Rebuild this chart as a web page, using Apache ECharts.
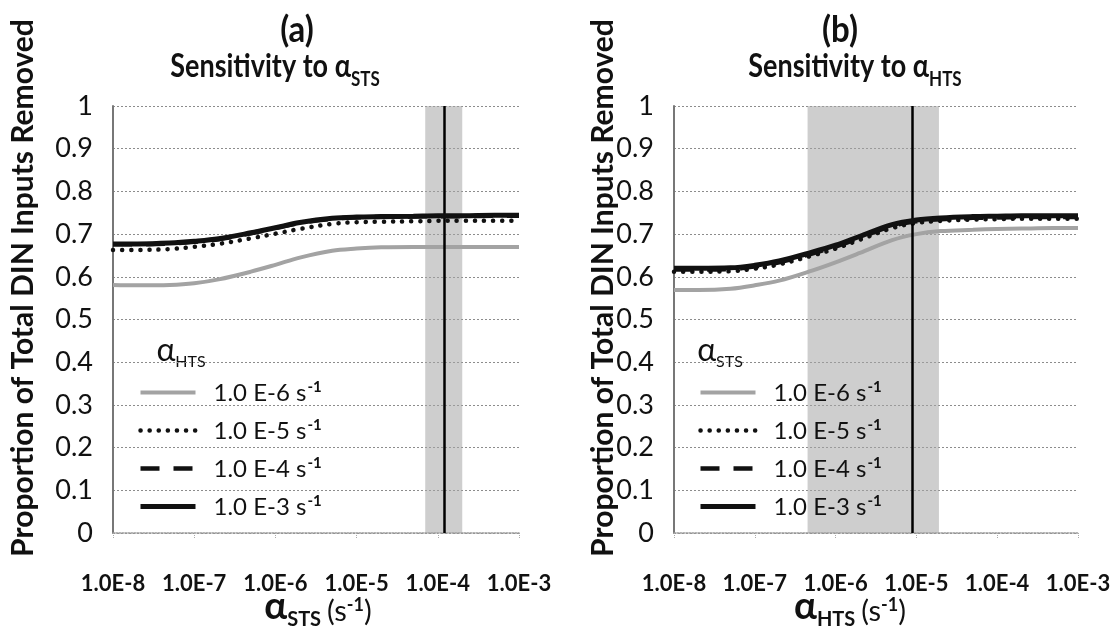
<!DOCTYPE html>
<html>
<head>
<meta charset="utf-8">
<script src="https://cdn.jsdelivr.net/npm/echarts@6/dist/echarts.min.js"></script>
<style>
  html, body { margin: 0; padding: 0; background: #fff; }
  #chart { width: 1114px; height: 635px; }
</style>
</head>
<body>
<div id="chart"></div>
<script>
// Rate constants (s^-1) at which the model was evaluated
const rateValues = [1e-8, 2e-8, 5e-8, 1e-7, 2e-7, 5e-7, 1e-6, 2e-6, 5e-6, 1e-5, 2e-5, 5e-5, 1e-4, 2e-4, 5e-4, 1e-3];

// Legend entries (the fixed rate of the other process)
const legendRates = ['1.0 E-6', '1.0 E-5', '1.0 E-4', '1.0 E-3'];

// Tick labels
const xTickLabels = ['1.0E-8', '1.0E-7', '1.0E-6', '1.0E-5', '1.0E-4', '1.0E-3'];
const yTickLabels = ['0', '0.1', '0.2', '0.3', '0.4', '0.5', '0.6', '0.7', '0.8', '0.9', '1'];

// (a) proportion removed vs alpha_STS, one curve per alpha_HTS
const stsHts6 = [0.581, 0.580, 0.581, 0.585, 0.594, 0.612, 0.628, 0.645, 0.661, 0.666, 0.669, 0.670, 0.670, 0.670, 0.670, 0.670];
const stsHts5 = [0.663, 0.663, 0.665, 0.670, 0.677, 0.690, 0.701, 0.712, 0.724, 0.728, 0.729, 0.730, 0.731, 0.731, 0.731, 0.731];
const stsHts4 = [0.676, 0.676, 0.678, 0.682, 0.688, 0.702, 0.714, 0.726, 0.736, 0.739, 0.740, 0.741, 0.742, 0.742, 0.743, 0.743];
const stsHts3 = [0.677, 0.677, 0.679, 0.683, 0.689, 0.703, 0.715, 0.727, 0.737, 0.740, 0.741, 0.742, 0.743, 0.743, 0.744, 0.744];

// (b) proportion removed vs alpha_HTS, one curve per alpha_STS
const htsSts6 = [0.569, 0.569, 0.572, 0.580, 0.591, 0.614, 0.634, 0.656, 0.686, 0.700, 0.707, 0.710, 0.712, 0.713, 0.714, 0.714];
const htsSts5 = [0.612, 0.612, 0.613, 0.619, 0.629, 0.649, 0.666, 0.687, 0.714, 0.726, 0.731, 0.734, 0.735, 0.736, 0.736, 0.736];
const htsSts4 = [0.617, 0.617, 0.618, 0.624, 0.634, 0.654, 0.671, 0.692, 0.719, 0.730, 0.735, 0.738, 0.739, 0.740, 0.740, 0.740];
const htsSts3 = [0.620, 0.620, 0.621, 0.627, 0.637, 0.657, 0.674, 0.695, 0.722, 0.733, 0.738, 0.741, 0.742, 0.743, 0.743, 0.743];

// Reference value and plausible range for each rate constant
const stsReference = 1.2e-4;
const stsRange = [7e-5, 2e-4];
const htsReference = 9e-6;
const htsRange = [4.5e-7, 1.9e-5];

const FONT = 'Lato, "Open Sans", sans-serif';

const lineStyles = [
  { color: '#a3a3a3', width: 4, type: 'solid' },
  { color: '#111', width: 4.5, type: [0.1, 9], cap: 'round' },
  { color: '#111', width: 4.5, type: [19, 14] },
  { color: '#111', width: 5, type: 'solid' }
];

function makeSeries(gridIdx, curves, ref, range) {
  return curves.map((vals, i) => {
    const s = {
      type: 'line',
      name: legendRates[i],
      xAxisIndex: gridIdx,
      yAxisIndex: gridIdx,
      data: rateValues.map((x, k) => [x, vals[k]]),
      symbol: 'none',
      smooth: 0.35,
      lineStyle: lineStyles[i],
      itemStyle: { color: lineStyles[i].color },
      z: 3 + i,
      silent: true
    };
    if (i === 0) {
      s.markArea = {
        silent: true,
        itemStyle: { color: 'rgba(165,165,165,0.55)' },
        data: [[{ xAxis: range[0] }, { xAxis: range[1] }]]
      };
    }
    if (i === 3) {
      s.markLine = {
        silent: true,
        symbol: ['none', 'none'],
        label: { show: false },
        lineStyle: { color: '#000', width: 2.5, type: 'solid' },
        data: [[{ coord: [ref, 0] }, { coord: [ref, 1] }]]
      };
    }
    return s;
  });
}

function xAxis(gridIdx) {
  return {
    type: 'log', logBase: 10, gridIndex: gridIdx,
    min: 1e-8, max: 1e-3,
    axisLine: { show: true, lineStyle: { color: '#9a9a9a', width: 1.5, type: 'dotted' } },
    axisTick: { show: true, length: 6, lineStyle: { color: '#aaa', type: 'dotted' } },
    minorTick: { show: false },
    splitLine: { show: false },
    axisLabel: {
      margin: 40, color: '#111', fontFamily: FONT, fontSize: 22, fontWeight: 'bold',
      formatter: v => xTickLabels[Math.round(Math.log10(v)) + 8]
    }
  };
}

function yAxis(gridIdx) {
  return {
    type: 'value', gridIndex: gridIdx, min: 0, max: 1, interval: 0.1,
    axisLine: { show: true, lineStyle: { color: '#777', width: 2 } },
    axisTick: { show: false },
    splitLine: { show: true, lineStyle: { color: '#8c8c8c', width: 1, type: [2, 2] } },
    axisLabel: {
      margin: 20, color: '#111', fontFamily: FONT, fontSize: 27,
      formatter: v => yTickLabels[Math.round(v * 10)]
    }
  };
}

function legend(left) {
  return {
    orient: 'vertical', left: left, top: 375,
    itemWidth: 55, itemHeight: 12, itemGap: 13,
    data: legendRates,
    selectedMode: false,
    itemStyle: { opacity: 0 },
    lineStyle: { width: 'inherit' },
    textStyle: {
      fontFamily: FONT, fontSize: 24, color: '#111', padding: [0, 0, 0, 13],
      rich: {
        base: { fontFamily: FONT, fontSize: 24, color: '#111', verticalAlign: 'bottom' },
        sup: { fontFamily: FONT, fontSize: 15, fontWeight: 'bold', color: '#111', verticalAlign: 'bottom', padding: [0, 0, 10, 1] }
      }
    },
    formatter: name => '{base|' + name + ' s}{sup|-1}'
  };
}

const titleRich = {
  t: { fontFamily: FONT, fontSize: 27, fontWeight: 'bold', fill: '#111', verticalAlign: 'bottom' },
  p: { fontFamily: FONT, fontSize: 33, fontWeight: 'bold', fill: '#111', verticalAlign: 'bottom' },
  sub: { fontFamily: FONT, fontSize: 17, fontWeight: 'bold', fill: '#111', verticalAlign: 'bottom', padding: [0, 0, -5, 0] }
};
const axisNameRich = {
  a: { fontFamily: FONT, fontSize: 38, fontWeight: 'bold', fill: '#111', verticalAlign: 'bottom' },
  sub: { fontFamily: FONT, fontSize: 20, fontWeight: 'bold', fill: '#111', verticalAlign: 'bottom', padding: [0, 2, -4, 0] },
  t: { fontFamily: FONT, fontSize: 29, fill: '#111', verticalAlign: 'bottom', padding: [0, 0, 0, 4] },
  t2: { fontFamily: FONT, fontSize: 29, fill: '#111', verticalAlign: 'bottom' },
  sup: { fontFamily: FONT, fontSize: 18, fontWeight: 'bold', fill: '#111', verticalAlign: 'bottom', padding: [0, 0, 12, 0] }
};
const legendTitleRich = {
  a: { fontFamily: FONT, fontSize: 32, fill: '#111', verticalAlign: 'bottom' },
  sub: { fontFamily: FONT, fontSize: 16, fill: '#111', verticalAlign: 'bottom', padding: [0, 0, -3, 0] }
};

function text(x, y, str, rich, sy) {
  return {
    type: 'text', x: x, y: y, silent: true, scaleY: sy || 1,
    style: { text: str, rich: rich, align: 'center', verticalAlign: 'middle', fill: '#111' }
  };
}

const yName = 'Proportion of Total DIN Inputs Removed';

const option = {
  animation: false,
  backgroundColor: '#fff',
  grid: [
    { left: 113, right: 1114 - 519, top: 106, bottom: 635 - 533 },
    { left: 674, right: 1114 - 1078, top: 106, bottom: 635 - 533 }
  ],
  xAxis: [xAxis(0), xAxis(1)],
  yAxis: [yAxis(0), yAxis(1)],
  legend: [legend(133), legend(693)],
  series: [].concat(
    makeSeries(0, [stsHts6, stsHts5, stsHts4, stsHts3], stsReference, stsRange),
    makeSeries(1, [htsSts6, htsSts5, htsSts4, htsSts3], htsReference, htsRange)
  ),
  graphic: [
    text(297, 30, '{p|(a)}', titleRich, 1.12),
    text(275, 67, '{t|Sensitivity to α}{sub|STS}', titleRich, 1.2),
    text(840, 30, '{p|(b)}', titleRich, 1.12),
    text(855, 67, '{t|Sensitivity to α}{sub|HTS}', titleRich, 1.2),
    text(318, 607, '{a|α}{sub|STS}{t|(s}{sup|-1}{t2|)}', axisNameRich),
    text(850, 607, '{a|α}{sub|HTS}{t|(s}{sup|-1}{t2|)}', axisNameRich),
    text(181, 351, '{a|α}{sub|HTS}', legendTitleRich),
    text(720, 351, '{a|α}{sub|STS}', legendTitleRich),
    {
      type: 'text', x: 23, y: 288, rotation: Math.PI / 2, silent: true,
      style: { text: yName, fontFamily: FONT, fontSize: 30, fontWeight: 'bold', fill: '#111', align: 'center', verticalAlign: 'middle' }
    },
    {
      type: 'text', x: 603, y: 288, rotation: Math.PI / 2, silent: true,
      style: { text: yName, fontFamily: FONT, fontSize: 30, fontWeight: 'bold', fill: '#111', align: 'center', verticalAlign: 'middle' }
    }
  ]
};

const chart = echarts.init(document.getElementById('chart'), null, { renderer: 'canvas' });
chart.setOption(option);
</script>
</body>
</html>
